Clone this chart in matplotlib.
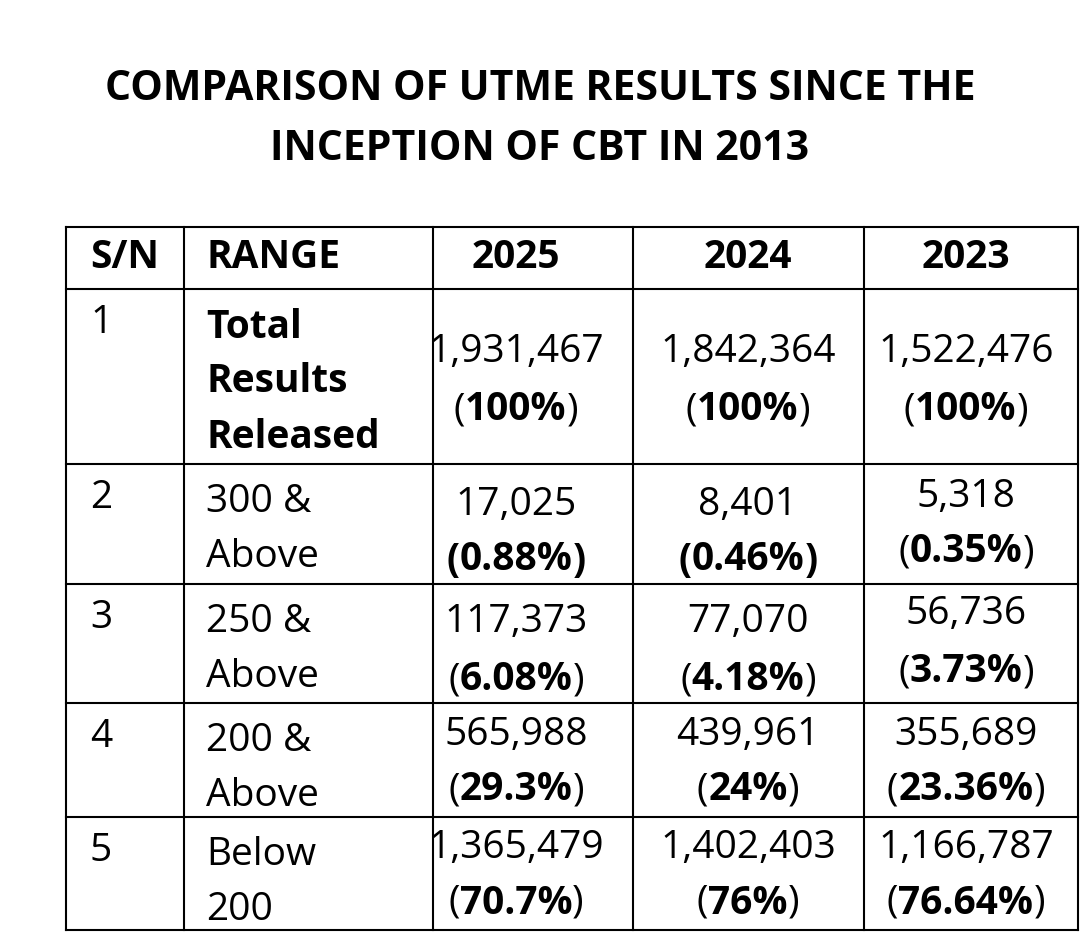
import matplotlib as mpl
mpl.use('Agg')
import matplotlib.pyplot as plt

title = ["COMPARISON OF UTME RESULTS SINCE THE", "INCEPTION OF CBT IN 2013"]
years = ["2025", "2024", "2023"]
sn = ["1", "2", "3", "4", "5"]
ranges = [["Total", "Results", "Released"], ["300 &", "Above"], ["250 &", "Above"],
          ["200 &", "Above"], ["Below", "200"]]
counts = {
    "2025": ["1,931,467", "17,025", "117,373", "565,988", "1,365,479"],
    "2024": ["1,842,364", "8,401", "77,070", "439,961", "1,402,403"],
    "2023": ["1,522,476", "5,318", "56,736", "355,689", "1,166,787"],
}
percents = {
    "2025": ["100%", "0.88%", "6.08%", "29.3%", "70.7%"],
    "2024": ["100%", "0.46%", "4.18%", "24%", "76%"],
    "2023": ["100%", "0.35%", "3.73%", "23.36%", "76.64%"],
}
# rows where the brackets of the percentage are bold too
all_bold = {("2025", 1), ("2024", 1)}

FONT = "Open Sans"
FS = 28

fig = plt.figure(figsize=(10.8, 9.4), dpi=100)
ax = fig.add_axes([0, 0, 1, 1])
ax.set_xlim(0, 1080)
ax.set_ylim(940, 0)
ax.axis('off')
r = fig.canvas.get_renderer()

def mixed(x, y, parts):
	# parts: list of (text, bold); centered at x
	objs = [ax.text(0, y, t, fontsize=FS, family=FONT, fontweight='bold' if b else 'normal',
	                va='center', ha='left') for t, b in parts]
	ws = [o.get_window_extent(r).width for o in objs]
	cx = x - sum(ws) / 2
	for o, w in zip(objs, ws):
		o.set_x(cx)
		cx += w

for i, line in enumerate(title):
	ax.text(540, 90 + i * 60, line, fontsize=29.5, family=FONT, fontweight='bold', ha='center', va='center')

xs = [66, 184, 433, 633, 864, 1078]
ys = [227, 289, 464, 584, 703, 817, 930]
for x in xs:
	ax.plot([x, x], [ys[0], ys[-1]], color='black', lw=1.5)
for y in ys:
	ax.plot([xs[0], xs[-1]], [y, y], color='black', lw=1.5)

centers = [516, 748, 966]
ax.text(125, 258, "S/N", fontsize=FS, family=FONT, fontweight='bold', ha='center', va='center')
ax.text(206, 258, "RANGE", fontsize=FS, family=FONT, fontweight='bold', ha='left', va='center')
for c, yr in zip(centers, years):
	ax.text(c, 258, yr, fontsize=FS, family=FONT, fontweight='bold', ha='center', va='center')

num_y = [(352, 410), (505, 560), (622, 680), (735, 790), (848, 903)]
for i in range(5):
	top = ys[i + 1]
	ax.text(90, top + 34, sn[i], fontsize=FS, family=FONT, va='center', ha='left')
	for j, t in enumerate(ranges[i]):
		ax.text(206, top + 38 + j * 55, t, fontsize=FS, family=FONT,
		        fontweight='bold' if i == 0 else 'normal', va='center', ha='left')
	for c, yr in zip(centers, years):
		y1, y2 = num_y[i]
		if yr == "2023" and i in (1, 2):
			y1 -= 8; y2 -= 8
		whole = (yr, i) in all_bold
		mixed(c, y1, [(counts[yr][i], False)])
		mixed(c, y2, [("(", whole), (percents[yr][i], True), (")", whole)])

fig.savefig("out.png", dpi=100)
